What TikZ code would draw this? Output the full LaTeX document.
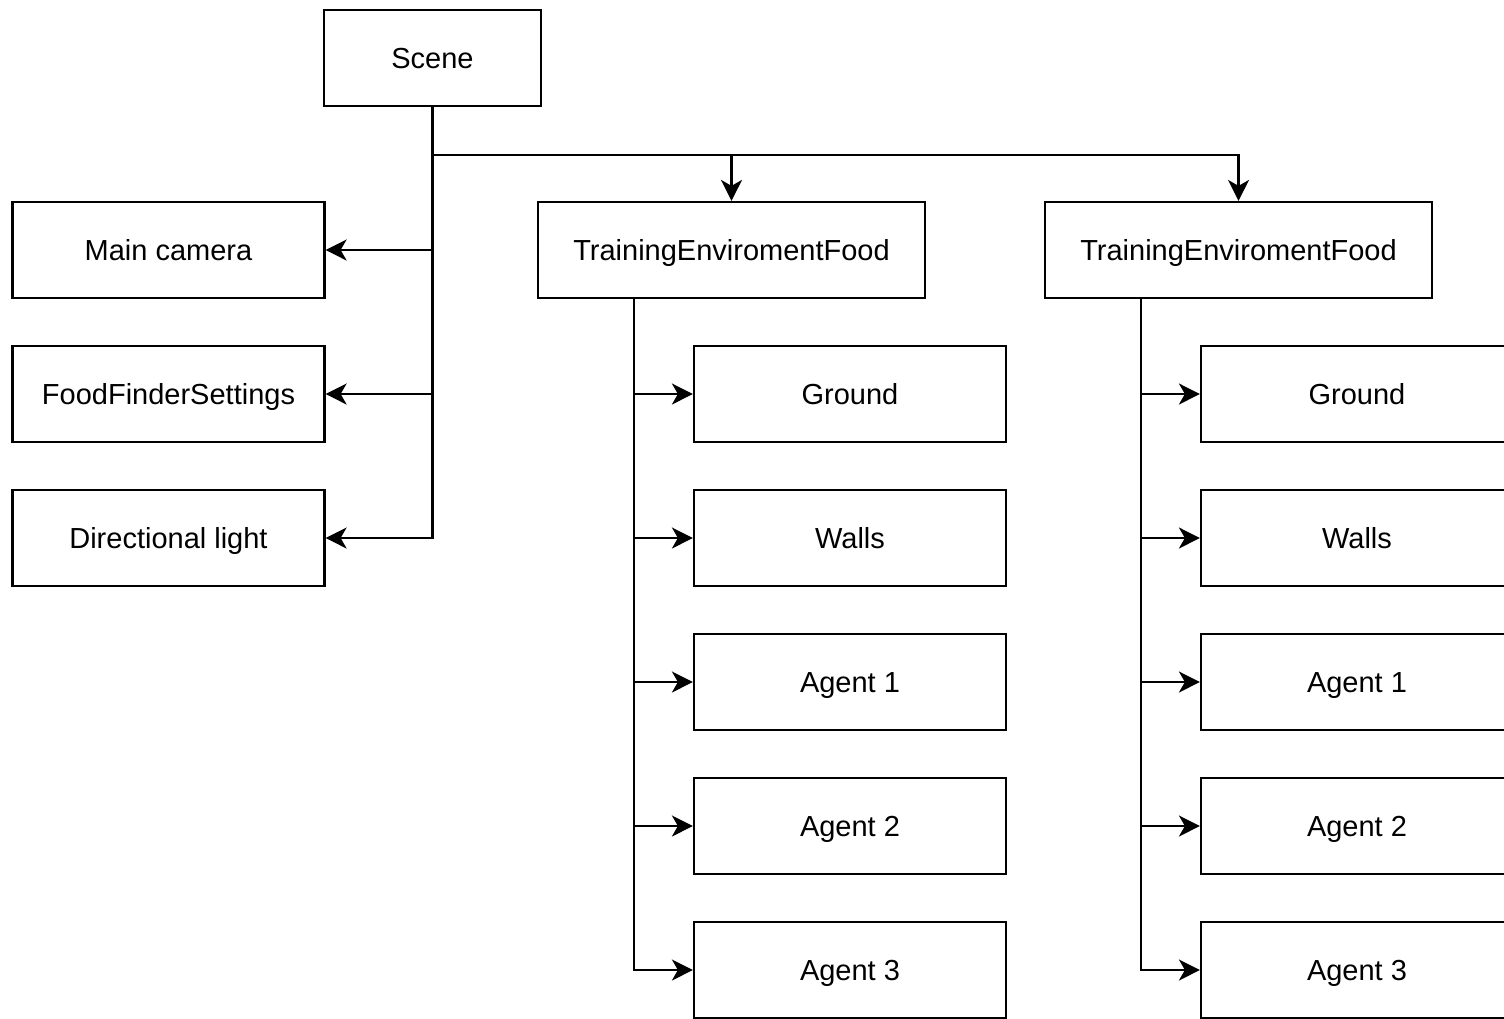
\documentclass[tikz,border=0pt]{standalone}
\usepackage{fontspec}
\setmainfont{Liberation Sans}
\usetikzlibrary{arrows.meta,calc}
\tikzset{
  box/.style={draw, line width=1.1pt, rectangle, inner sep=0pt, anchor=center,
    font=\fontsize{14.5pt}{17pt}\selectfont, text height=10.5pt, text depth=0pt},
  smallbox/.style={box, minimum width=156pt, minimum height=48pt},
  widebox/.style={box, minimum width=193.5pt, minimum height=48pt},
  scenebox/.style={box, minimum width=108.5pt, minimum height=48pt},
  conn/.style={line width=1.1pt, -{Stealth[length=10.5pt,width=10.5pt,inset=3pt]}},
  plain/.style={line width=1.1pt}
}
\begin{document}
\begin{tikzpicture}[x=0.5pt,y=-0.5pt]
\useasboundingbox (0,0) rectangle (1504,1018);
\clip (0,0) rectangle (1504,1018);
\fill[white] (0,0) rectangle (1504,1018);

\node[scenebox] (scene) at (432.5,58) {Scene};
\node[smallbox] (mc) at (168.5,250) {Main camera};
\node[smallbox] (ffs) at (168.5,394) {FoodFinderSettings};
\node[smallbox] (dl) at (168.5,538) {Directional light};

\node[widebox] (tef1) at (731.5,250) {TrainingEnviromentFood};
\node[widebox] (tef2) at (1238.5,250) {TrainingEnviromentFood};

\node[smallbox] (g1) at (850,394) {Ground};
\node[smallbox] (w1) at (850,538) {Walls};
\node[smallbox] (a11) at (850,682) {Agent 1};
\node[smallbox] (a12) at (850,826) {Agent 2};
\node[smallbox] (a13) at (850,970) {Agent 3};

\node[smallbox] (g2) at (1357,394) {Ground};
\node[smallbox] (w2) at (1357,538) {Walls};
\node[smallbox] (a21) at (1357,682) {Agent 1};
\node[smallbox] (a22) at (1357,826) {Agent 2};
\node[smallbox] (a23) at (1357,970) {Agent 3};

\coordinate (bus) at ($(scene.south)+(0,48)$);
\coordinate (jmc) at (scene.south |- mc.east);
\coordinate (jffs) at (scene.south |- ffs.east);

\draw[conn] (scene.south) |- (dl.east);
\draw[conn] (jmc) -- (mc.east);
\draw[conn] (jffs) -- (ffs.east);
\draw[conn] (bus) -| (tef1.north);
\draw[conn] (bus) -| (tef2.north);

\coordinate (t1) at ($(tef1.south west)!0.25!(tef1.south east)$);
\coordinate (t2) at ($(tef2.south west)!0.25!(tef2.south east)$);

\draw[conn] (t1) |- (a13.west);
\draw[conn] (t2) |- (a23.west);
\foreach \n in {g1,w1,a11,a12}{\draw[conn] (t1 |- \n.west) -- (\n.west);}
\foreach \n in {g2,w2,a21,a22}{\draw[conn] (t2 |- \n.west) -- (\n.west);}
\end{tikzpicture}
\end{document}
